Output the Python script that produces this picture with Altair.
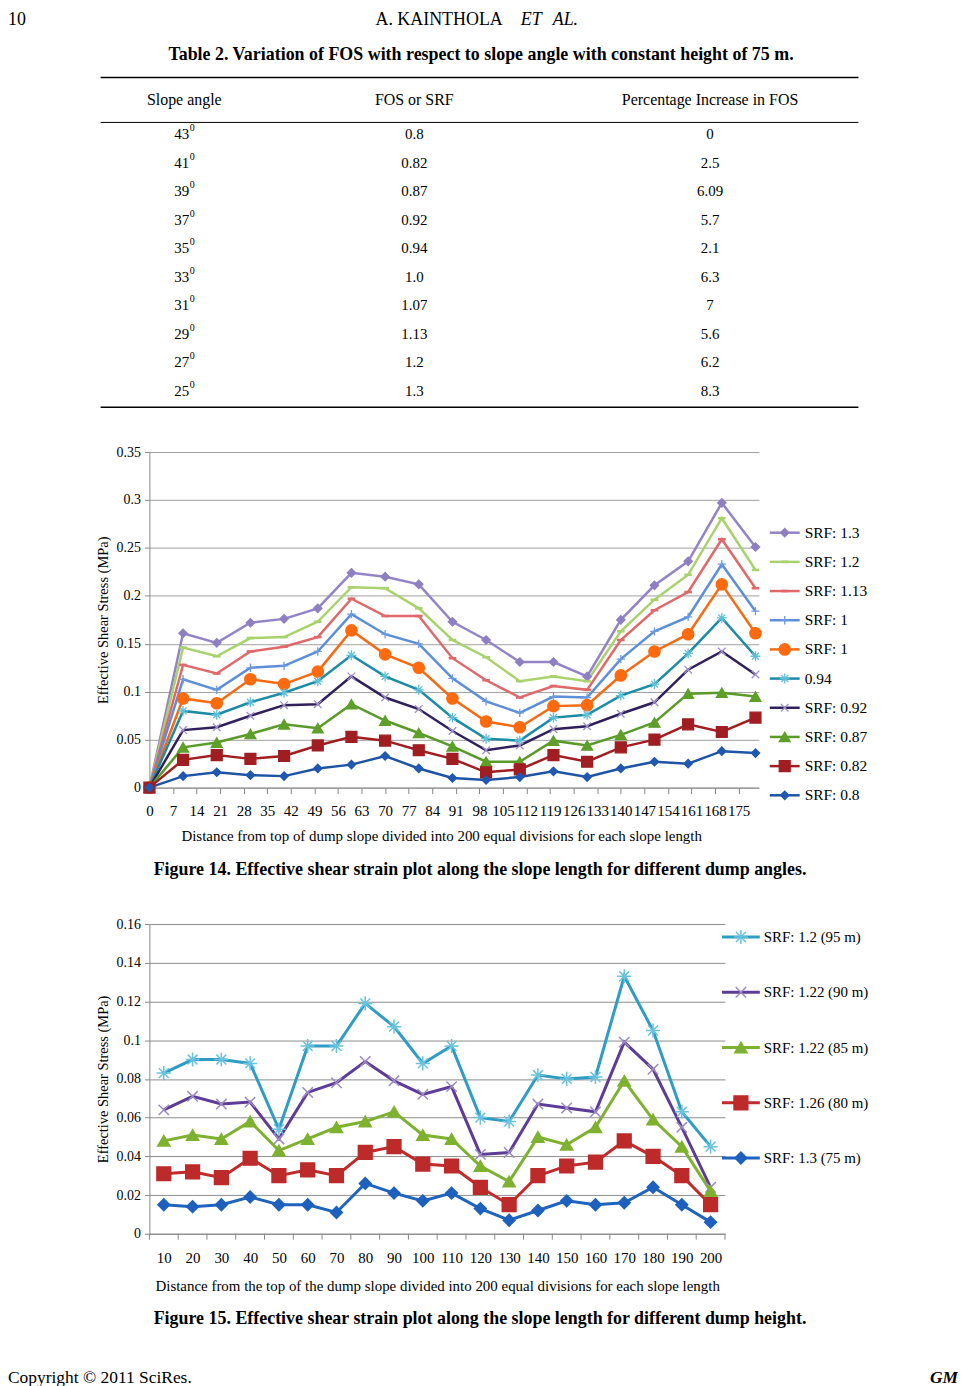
import altair as alt
import pandas as pd

FONT = "Liberation Serif"

# ---------------- Table 2 ----------------
page_number = "10"
running_head = ["A. KAINTHOLA", "ET", "AL."]
table_title = "Table 2. Variation of FOS with respect to slope angle with constant height of 75 m."
table_headers = ["Slope angle", "FOS or SRF", "Percentage Increase in FOS"]
slope_angles = ["43", "41", "39", "37", "35", "33", "31", "29", "27", "25"]
fos_values = ["0.8", "0.82", "0.87", "0.92", "0.94", "1.0", "1.07", "1.13", "1.2", "1.3"]
pct_increase = ["0", "2.5", "6.09", "5.7", "2.1", "6.3", "7", "5.6", "6.2", "8.3"]

# ---------------- Figure 14 ----------------
fig14_x = [0, 10, 20, 30, 40, 50, 60, 70, 80, 90, 100, 110, 120, 130, 140, 150, 160, 170, 180]
fig14_ticks = list(range(0, 176, 7))
fig14_labels = ["SRF: 1.3", "SRF: 1.2", "SRF: 1.13", "SRF: 1", "SRF: 1", "0.94",
                "SRF: 0.92", "SRF: 0.87", "SRF: 0.82", "SRF: 0.8"]
srf_130 = [0, 0.161, 0.151, 0.172, 0.176, 0.187, 0.224, 0.220, 0.212, 0.173, 0.154, 0.131, 0.131, 0.116, 0.175, 0.211, 0.236, 0.297, 0.251]
srf_120 = [0, 0.146, 0.137, 0.156, 0.157, 0.173, 0.209, 0.208, 0.187, 0.154, 0.136, 0.111, 0.116, 0.111, 0.163, 0.196, 0.222, 0.281, 0.227]
srf_113 = [0, 0.128, 0.119, 0.142, 0.147, 0.157, 0.197, 0.179, 0.179, 0.135, 0.112, 0.094, 0.106, 0.102, 0.154, 0.185, 0.204, 0.259, 0.208]
srf_100a = [0, 0.113, 0.102, 0.125, 0.127, 0.142, 0.181, 0.160, 0.150, 0.114, 0.090, 0.078, 0.095, 0.094, 0.134, 0.163, 0.178, 0.233, 0.184]
srf_100b = [0, 0.093, 0.088, 0.113, 0.108, 0.121, 0.164, 0.139, 0.125, 0.093, 0.069, 0.063, 0.085, 0.086, 0.117, 0.142, 0.160, 0.212, 0.161]
srf_094 = [0, 0.080, 0.076, 0.089, 0.099, 0.111, 0.138, 0.116, 0.102, 0.073, 0.051, 0.049, 0.073, 0.076, 0.096, 0.108, 0.140, 0.177, 0.137]
srf_092 = [0, 0.060, 0.063, 0.075, 0.086, 0.087, 0.116, 0.094, 0.082, 0.059, 0.039, 0.044, 0.061, 0.064, 0.077, 0.089, 0.123, 0.142, 0.118]
srf_087 = [0, 0.042, 0.047, 0.056, 0.066, 0.062, 0.087, 0.070, 0.057, 0.043, 0.027, 0.027, 0.049, 0.044, 0.055, 0.068, 0.098, 0.099, 0.095]
srf_082 = [0, 0.029, 0.034, 0.030, 0.033, 0.044, 0.053, 0.049, 0.039, 0.030, 0.016, 0.019, 0.034, 0.027, 0.042, 0.050, 0.066, 0.058, 0.073]
srf_080 = [0, 0.012, 0.016, 0.013, 0.012, 0.020, 0.024, 0.033, 0.020, 0.010, 0.008, 0.011, 0.017, 0.011, 0.020, 0.027, 0.025, 0.038, 0.036]
fig14_series = [srf_130, srf_120, srf_113, srf_100a, srf_100b, srf_094, srf_092, srf_087, srf_082, srf_080]
fig14_title_x = "Distance from top of dump slope divided into 200 equal divisions for each slope length"
fig14_caption = "Figure 14. Effective shear strain plot along the slope length for different dump angles."

# ---------------- Figure 15 ----------------
fig15_x = [10, 20, 30, 40, 50, 60, 70, 80, 90, 100, 110, 120, 130, 140, 150, 160, 170, 180, 190, 200]
fig15_labels = ["SRF: 1.2 (95 m)", "SRF: 1.22 (90 m)", "SRF: 1.22 (85 m)", "SRF: 1.26 (80 m)", "SRF: 1.3 (75 m)"]
h95 = [0.083, 0.090, 0.090, 0.088, 0.054, 0.097, 0.097, 0.119, 0.107, 0.088, 0.097, 0.060, 0.058, 0.082, 0.080, 0.081, 0.133, 0.105, 0.063, 0.045]
h90 = [0.064, 0.071, 0.067, 0.068, 0.049, 0.073, 0.078, 0.089, 0.079, 0.072, 0.076, 0.041, 0.042, 0.067, 0.065, 0.063, 0.099, 0.085, 0.055, 0.024]
h85 = [0.048, 0.051, 0.049, 0.058, 0.043, 0.049, 0.055, 0.058, 0.063, 0.051, 0.049, 0.035, 0.027, 0.050, 0.046, 0.055, 0.079, 0.059, 0.045, 0.022]
h80 = [0.031, 0.032, 0.029, 0.039, 0.030, 0.033, 0.030, 0.042, 0.045, 0.036, 0.035, 0.024, 0.015, 0.030, 0.035, 0.037, 0.048, 0.040, 0.030, 0.015]
h75 = [0.015, 0.014, 0.015, 0.019, 0.015, 0.015, 0.011, 0.026, 0.021, 0.017, 0.021, 0.013, 0.007, 0.012, 0.017, 0.015, 0.016, 0.024, 0.015, 0.006]
fig15_series = [h95, h90, h85, h80, h75]
fig15_title_x = "Distance from the top of the dump slope divided into 200 equal divisions for each slope length"
fig15_caption = "Figure 15. Effective shear strain plot along the slope length for different dump height."
y_title = "Effective Shear Stress (MPa)"
footer_left = "Copyright \u00a9 2011 SciRes."
footer_right = "GM"

# ---------------- styles ----------------
ASTER = "M-1,0L1,0M0,-1L0,1M-0.7,-0.7L0.7,0.7M-0.7,0.7L0.7,-0.7"
XMARK = "M-0.8,-0.8L0.8,0.8M-0.8,0.8L0.8,-0.8"
PLUS = "M-1,0L1,0M0,-1L0,1"
DASH = "M-1,-0.2L1,-0.2L1,0.2L-1,0.2Z"

st14_line = ["#9384C7", "#A9D26C", "#E0686A", "#5D8ED8", "#F86A12", "#1B8BA6", "#2F205C", "#5A9A28", "#A01E22", "#1F54A5"]
st14_mark = ["#8E7FC2", "#A9D26C", "#E0686A", "#6C9BE0", "#FF6A0E", "#5FC0DA", "#9E90C8", "#5E9F2A", "#A01E22", "#1F58B0"]
st14_shape = ["diamond", DASH, DASH, PLUS, "circle", ASTER, XMARK, "triangle-up", "square", "diamond"]
st14_size = [70, 40, 40, 70, 130, 100, 90, 120, 120, 70]

st15_line = ["#2E9CC3", "#5C3C96", "#7DB12F", "#C02A2B", "#2063BF"]
st15_mark = ["#69C2E0", "#9C8BC4", "#7DB12F", "#BC2A2A", "#1E60BE"]
st15_shape = [ASTER, XMARK, "triangle-up", "square", "diamond"]
st15_size = [200, 170, 150, 190, 140]


def txt(text, x, y, size=14, weight="normal", style="normal", align="center", baseline="middle"):
    return alt.Chart(pd.DataFrame({"t": [text]})).mark_text(
        font=FONT, fontSize=size, fontWeight=weight, fontStyle=style,
        align=align, baseline=baseline, color="black"
    ).encode(x=alt.value(x), y=alt.value(y), text="t:N")


def hrule(x1, x2, y, w=1):
    return alt.Chart(pd.DataFrame({"a": [0]})).mark_rule(color="black", strokeWidth=w).encode(
        x=alt.value(x1), x2=alt.value(x2), y=alt.value(y))


# ---------------- Chart A: header + table ----------------
rows = pd.DataFrame({"k": list(range(len(slope_angles))), "angle": slope_angles,
                     "fos": fos_values, "pct": pct_increase})
row_base = alt.Chart(rows).transform_calculate(ry="124 + datum.k * 28.6")
ry = alt.Y("ry:Q", scale=None)

table_layers = [
    txt(page_number, -142, 9, size=18, align="left"),
    txt(running_head[0], 227, 9, size=18, align="left"),
    txt(running_head[1], 373, 9, size=18, style="italic", align="left"),
    txt(running_head[2], 405, 9, size=18, style="italic", align="left"),
    txt(table_title, 333, 44, size=18, weight="bold"),
    hrule(-49, 712, 67, 1.5),
    hrule(-49, 712, 112, 1),
    hrule(-49, 712, 398, 1.5),
    txt(table_headers[0], 35, 89, size=16),
    txt(table_headers[1], 266, 89, size=16),
    txt(table_headers[2], 563, 89, size=16),
    row_base.mark_text(font=FONT, fontSize=15, align="right", color="black").encode(
        x=alt.value(40), y=ry, text="angle:N"),
    row_base.mark_text(font=FONT, fontSize=10, align="left", dy=-6, color="black").encode(
        x=alt.value(40.5), y=ry, text=alt.value("0")),
    row_base.mark_text(font=FONT, fontSize=15, color="black").encode(
        x=alt.value(266), y=ry, text="fos:N"),
    row_base.mark_text(font=FONT, fontSize=15, color="black").encode(
        x=alt.value(563), y=ry, text="pct:N"),
]
chartA = alt.layer(*table_layers).properties(width=612, height=306)


def long_df(xs, series, lines, marks, shapes, sizes):
    recs = []
    for k, vals in enumerate(series):
        for x, v in zip(xs, vals):
            recs.append({"sid": k, "x": x, "v": v, "lc": lines[k], "mc": marks[k],
                         "shp": shapes[k], "sz": sizes[k]})
    return pd.DataFrame(recs)


def legend_df(labels, lines, marks, shapes, sizes):
    return pd.DataFrame({"k": list(range(len(labels))), "label": labels, "lc": lines,
                         "mc": marks, "shp": shapes, "sz": sizes})


def point_enc(x, y):
    return dict(x=x, y=y,
                shape=alt.Shape("shp:N", scale=None),
                fill=alt.Fill("mc:N", scale=None),
                stroke=alt.Stroke("mc:N", scale=None),
                size=alt.Size("sz:Q", scale=None))


# ---------------- Chart B: Figure 14 ----------------
df14 = long_df(fig14_x, fig14_series, st14_line, st14_mark, st14_shape, st14_size)
xB = alt.X("x:Q", scale=alt.Scale(domain=[0, 181], nice=False, zero=False),
           axis=alt.Axis(values=fig14_ticks, title=fig14_title_x, titleX=293, titleFontSize=15,
                         titlePadding=10, labelFontSize=15, labelPadding=10, tickSize=6,
                         labelOverlap=False, labelFlush=False, grid=False))
yB = alt.Y("v:Q", scale=alt.Scale(domain=[0, 0.35], nice=False),
           axis=alt.Axis(values=[0, 0.05, 0.1, 0.15, 0.2, 0.25, 0.3, 0.35], format=".2~f",
                         title=y_title, titleFontSize=14.5, titlePadding=6, labelFontSize=14,
                         labelPadding=4, tickSize=5, labelFlush=False, grid=True,
                         gridColor="#a0a0a0"))
lines14 = alt.Chart(df14).mark_line(strokeWidth=2.5).encode(
    x=xB, y=yB, color=alt.Color("lc:N", scale=None), detail="sid:N")
points14 = alt.Chart(df14).mark_point(filled=True, opacity=1, strokeWidth=1.3).encode(**point_enc(xB, yB))

leg14 = alt.Chart(legend_df(fig14_labels, st14_line, st14_mark, st14_shape, st14_size)).transform_calculate(
    ly="81 + datum.k * 29.3")
ly = alt.Y("ly:Q", scale=None)
leg14_rule = leg14.mark_rule(strokeWidth=2.5).encode(
    x=alt.value(623), x2=alt.value(653), y=ly, color=alt.Color("lc:N", scale=None))
leg14_pts = leg14.mark_point(filled=True, opacity=1, strokeWidth=1.3).encode(
    **point_enc(alt.value(638), ly))
leg14_txt = leg14.mark_text(font=FONT, fontSize=15.5, align="left", color="black").encode(
    x=alt.value(658), y=ly, text="label:N")
cap14 = txt(fig14_caption, 332, 420, size=18, weight="bold")

chartB = alt.layer(lines14, points14, leg14_rule, leg14_pts, leg14_txt, cap14).properties(
    width=612, height=337)

# ---------------- Chart C: Figure 15 ----------------
df15 = long_df(fig15_x, fig15_series, st15_line, st15_mark, st15_shape, st15_size)
xC = alt.X("x:Q", scale=alt.Scale(domain=[5, 205], nice=False, zero=False),
           axis=alt.Axis(values=fig15_x, title=fig15_title_x, titleX=289, titleFontSize=15,
                         titlePadding=13, labelFontSize=15, labelPadding=17, ticks=False,
                         tickSize=0, labelOverlap=False, labelFlush=False, grid=False))
yC = alt.Y("v:Q", scale=alt.Scale(domain=[0, 0.16], nice=False),
           axis=alt.Axis(values=[0, 0.02, 0.04, 0.06, 0.08, 0.1, 0.12, 0.14, 0.16], format=".2~f",
                         title=y_title, titleFontSize=14.5, titlePadding=6, labelFontSize=14,
                         labelPadding=4, tickSize=5, labelFlush=False, grid=True,
                         gridColor="#8c8c8c"))
bounds15 = pd.DataFrame({"x": [c - 5 for c in fig15_x] + [fig15_x[-1] + 5]})
ticks15 = alt.Chart(bounds15).mark_rule(color="#888888").encode(
    x=xC, y=alt.value(311), y2=alt.value(317))
lines15 = alt.Chart(df15).mark_line(strokeWidth=3).encode(
    x=xC, y=yC, color=alt.Color("lc:N", scale=None), detail="sid:N")
points15 = alt.Chart(df15).mark_point(filled=True, opacity=1, strokeWidth=1.5).encode(**point_enc(xC, yC))

leg15 = alt.Chart(legend_df(fig15_labels, st15_line, st15_mark, st15_shape, st15_size)).transform_calculate(
    ly="13 + datum.k * 55.5")
leg15_rule = leg15.mark_rule(strokeWidth=3).encode(
    x=alt.value(575), x2=alt.value(613), y=ly, color=alt.Color("lc:N", scale=None))
leg15_pts = leg15.mark_point(filled=True, opacity=1, strokeWidth=1.5).encode(
    **point_enc(alt.value(594), ly))
leg15_txt = leg15.mark_text(font=FONT, fontSize=15, align="left", color="black").encode(
    x=alt.value(617), y=ly, text="label:N")
cap15 = txt(fig15_caption, 332, 397, size=18, weight="bold")
foot_l = txt(footer_left, -142, 456, size=17.5, align="left")
foot_r = txt(footer_right, 812, 456, size=17.5, weight="bold", style="italic", align="right")

chartC = alt.layer(ticks15, lines15, points15, leg15_rule, leg15_pts, leg15_txt,
                   cap15, foot_l, foot_r).properties(width=578, height=311)

chart = alt.vconcat(chartA, chartB, chartC, spacing=137, bounds="flush").properties(
    padding=0
).configure_view(stroke=None).configure_axis(
    labelFont=FONT, titleFont=FONT, labelColor="black", titleColor="black",
    titleFontWeight="normal", domainColor="#888888", tickColor="#888888"
)

chart.save("out.html", embed_options={"renderer": "svg", "actions": False})
